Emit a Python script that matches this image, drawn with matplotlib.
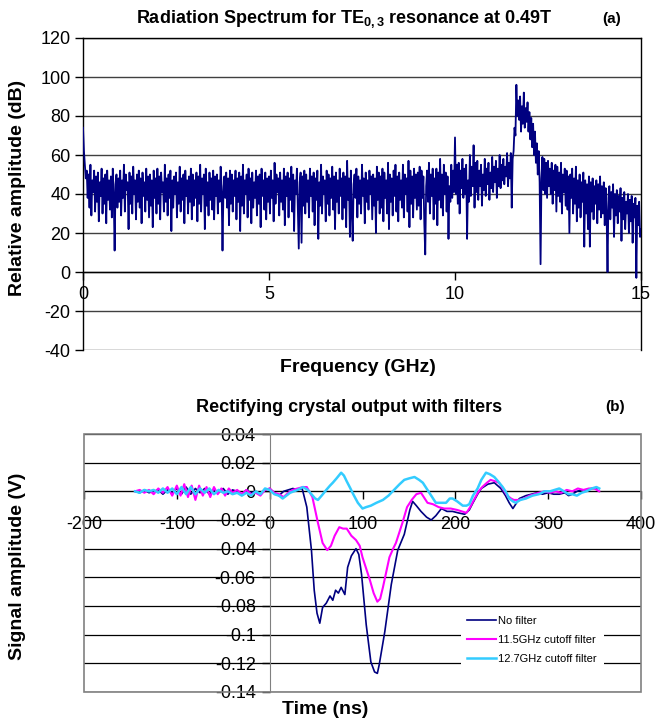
import matplotlib.pyplot as plt
from matplotlib.patches import Rectangle
import numpy as np

plt.rcParams['font.family'] = ['Liberation Sans', 'DejaVu Sans']
plt.rcParams['axes.unicode_minus'] = False
plt.rcParams['mathtext.fontset'] = 'custom'
plt.rcParams['mathtext.bf'] = 'Liberation Sans:bold'
plt.rcParams['mathtext.rm'] = 'Liberation Sans'

BOLD = ['Liberation Sans', 'DejaVu Sans']

# (a) radiation spectrum, one reading every 0.025 GHz, 0 .. 15 GHz
freq_step = 0.025
spec_db = [
    74, 62, 55, 48, 52, 38, 50, 33, 55, 29,
    47, 41, 52, 31, 49, 36, 51, 26, 46, 39,
    53, 30, 48, 35, 50, 25, 52, 37, 47, 32,
    49, 28, 53, 40, 11, 45, 50, 33, 48, 36,
    52, 29, 47, 38, 55, 31, 50, 42, 46, 22,
    51, 35, 49, 30, 54, 40, 47, 27, 50, 36,
    52, 33, 48, 25, 51, 39, 46, 31, 53, 37,
    49, 28, 50, 34, 47, 23, 52, 38, 48, 30,
    53, 35, 49, 27, 51, 41, 46, 31, 55, 36,
    48, 29, 50, 38, 52, 21, 47, 33, 49, 40,
    51, 28, 46, 35, 54, 31, 48, 37, 50, 25,
    52, 39, 47, 30, 49, 36, 53, 27, 50, 34,
    47, 38, 51, 26, 49, 35, 55, 31, 48, 40,
    50, 22, 53, 34, 46, 29, 51, 37, 48, 32,
    52, 27, 49, 39, 50, 30, 47, 36, 54, 44,
    11, 41, 49, 38, 51, 33, 48, 24, 52, 35,
    50, 31, 47, 39, 52, 27, 48, 36, 51, 21,
    49, 34, 55, 30, 47, 40, 50, 28, 53, 37,
    48, 25, 51, 33, 46, 38, 52, 29, 49, 35,
    50, 23, 53, 39, 47, 32, 51, 27, 48, 36,
    49, 30, 52, 38, 47, 26, 56, 35, 50, 41,
    48, 29, 51, 36, 47, 32, 53, 24, 49, 39,
    51, 28, 48, 37, 54, 31, 50, 21, 47, 40,
    53, 33, 12, 46, 51, 15, 49, 34, 52, 30,
    50, 36, 47, 28, 53, 39, 49, 31, 51, 24,
    48, 37, 52, 17, 46, 34, 55, 30, 49, 40,
    47, 26, 52, 35, 50, 29, 48, 38, 54, 32,
    49, 22, 51, 36, 47, 30, 53, 39, 48, 27,
    51, 33, 49, 23, 57, 37, 48, 18, 52, 31,
    16, 45, 50, 38, 53, 28, 49, 35, 47, 30,
    55, 39, 48, 25, 51, 36, 47, 32, 52, 40,
    49, 27, 50, 34, 48, 20, 54, 37, 51, 30,
    49, 33, 53, 26, 51, 38, 47, 30, 56, 22,
    50, 36, 48, 29, 52, 39, 55, 31, 49, 26,
    51, 37, 47, 33, 55, 28, 50, 40, 48, 31,
    57, 23, 52, 35, 49, 28, 53, 38, 50, 32,
    51, 34, 54, 27, 52, 38, 49, 25, 9, 44,
    52, 36, 56, 30, 50, 39, 53, 27, 48, 35,
    53, 24, 51, 37, 58, 33, 50, 29, 55, 40,
    51, 31, 49, 17, 44, 36, 55, 38, 52, 41,
    69, 40, 55, 35, 56, 30, 52, 43, 58, 38,
    53, 40, 55, 17, 47, 36, 60, 39, 54, 44,
    65, 33, 56, 41, 57, 37, 52, 44, 55, 34,
    50, 42, 58, 39, 53, 45, 56, 37, 51, 43,
    59, 41, 54, 46, 57, 38, 53, 44, 60, 43,
    55, 47, 58, 45, 54, 49, 61, 44, 56, 48,
    61, 33, 58, 62, 74, 70, 96, 80, 88, 78,
    90, 72, 85, 76, 92, 74, 84, 77, 87, 72,
    82, 68, 79, 64, 76, 60, 72, 56, 66, 50,
    62, 46, 4, 48, 59, 42, 58, 40, 56, 38,
    57, 44, 53, 40, 56, 35, 52, 42, 55, 31,
    54, 39, 51, 36, 56, 30, 50, 41, 53, 34,
    52, 32, 49, 20, 50, 38, 53, 30, 48, 35,
    54, 26, 47, 33, 50, 28, 46, 36, 51, 13,
    47, 30, 45, 22, 49, 13, 46, 31, 48, 27,
    44, 35, 47, 25, 45, 32, 49, 28, 44, 30,
    46, 24, 43, 30, 0, 38, 44, 27, 41, 33,
    45, 18, 40, 29, 42, 25, 39, 31, 43, 16,
    38, 27, 41, 22, 36, 30, 40, 20, 37, 26,
    39, 15, 35, 28, 38, -3, 34, 24, 36, 18,
    22,
]
freq = np.arange(len(spec_db)) * freq_step

# (b) rectifying crystal output
t_nofilt = [-145, -140, -135, -130, -125, -120, -115, -110, -105, -100, -95, -90,
            -85, -80, -75, -70, -65, -60, -55, -50, -45, -40, -35, -30, -25, -20,
            -15, -10, -5, 0, 5, 10, 15, 20, 25, 30, 35,
            40, 45, 48, 51, 54, 57, 61, 65, 68, 71, 74, 77, 81, 84, 88, 93, 96, 99,
            104, 109, 113, 116, 118, 124, 131, 138, 145, 151, 154, 158, 163, 169,
            174, 179, 185, 191, 197, 203, 210, 215, 219, 224, 228, 235, 242, 249,
            254, 258, 262, 266, 269, 276, 282, 288, 294, 300, 306, 312, 318, 322,
            326, 331, 336, 341, 347, 353]
v_nofilt = [0.000, -0.001, 0.001, -0.001, 0.000, 0.001, -0.002, 0.001, -0.001, 0.002,
            -0.002, 0.003, -0.002, 0.002, -0.001, 0.002, -0.002, 0.001, -0.001, 0.002,
            -0.002, 0.001, 0.000, -0.002, 0.001, -0.001, 0.000, -0.002, 0.001, 0.002,
            -0.001, -0.003, 0.000, 0.001, 0.002, 0.001, 0.002,
            -0.011, -0.041, -0.069, -0.085, -0.092, -0.081, -0.078, -0.073, -0.076,
            -0.069, -0.071, -0.067, -0.072, -0.053, -0.045, -0.040, -0.044, -0.058,
            -0.093, -0.119, -0.126, -0.127, -0.121, -0.098, -0.065, -0.041, -0.030,
            -0.013, -0.007, -0.010, -0.014, -0.018, -0.020, -0.017, -0.012, -0.014,
            -0.014, -0.015, -0.016, -0.013, -0.008, -0.002, 0.002, 0.005, 0.006, 0.002,
            -0.003, -0.008, -0.012, -0.008, -0.005, -0.003, -0.002, -0.001, -0.002,
            -0.001, -0.002, -0.002, -0.001, -0.003, -0.002, 0.000, 0.001, 0.001, 0.002,
            0.002]

t_115 = [-145, -140, -135, -130, -125, -120, -115, -110, -105, -100, -96, -92, -88,
         -84, -80, -76, -72, -68, -64, -60, -56, -52, -48, -44, -40, -35, -30, -25,
         -20, -15, -10, -5, 0, 5, 10, 15, 20, 25, 30, 36, 40, 46, 52, 57, 62, 66, 70,
         75, 79, 83, 88, 93, 97, 100, 104, 108, 112, 116, 119, 122, 126, 129, 133,
         136, 140, 143, 148, 153, 158, 163, 170, 176, 182, 188, 195, 202, 207, 212,
         216, 220, 225, 229, 234, 238, 243, 247, 252, 256, 260, 263, 268, 274, 280,
         285, 290, 296, 302, 308, 314, 320, 326, 332, 338, 344, 350, 355]
v_115 = [0.000, 0.001, -0.001, 0.001, -0.002, 0.002, -0.001, 0.003, -0.003, 0.004,
         -0.003, 0.005, -0.004, 0.004, -0.006, 0.004, -0.003, 0.003, -0.004, 0.003,
         -0.002, 0.002, -0.003, 0.002, -0.001, 0.001, -0.002, 0.001, -0.002, -0.001,
         -0.003, 0.001, 0.002, -0.001, -0.002, -0.004, -0.001, 0.001, 0.002, 0.003,
         0.003, -0.004, -0.022, -0.036, -0.041, -0.038, -0.031, -0.025, -0.026,
         -0.026, -0.031, -0.034, -0.038, -0.046, -0.054, -0.062, -0.071, -0.077,
         -0.075, -0.067, -0.055, -0.046, -0.040, -0.036, -0.028, -0.022, -0.011,
         -0.006, -0.002, -0.001, -0.008, -0.009, -0.011, -0.012, -0.012, -0.013,
         -0.014, -0.015, -0.011, -0.006, 0.000, 0.003, 0.006, 0.008, 0.007, 0.006,
         0.001, -0.003, -0.005, -0.006, -0.006, -0.005, -0.003, -0.002, -0.001,
         0.000, -0.001, 0.000, -0.001, 0.001, 0.000, 0.002, 0.001, 0.002, 0.002,
         0.000]

t_127 = [-145, -140, -135, -130, -125, -120, -115, -110, -105, -100, -95, -90, -85,
         -80, -75, -70, -65, -60, -55, -50, -45, -40, -35, -30, -25, -20, -15, -10,
         -5, 0, 5, 10, 14, 18, 22, 26, 30, 36, 41, 45, 49, 52, 56, 61, 65, 68, 72,
         77, 80, 83, 87, 90, 95, 100, 104, 109, 115, 122, 128, 134, 140, 145, 150,
         156, 161, 165, 170, 175, 179, 185, 190, 194, 197, 202, 208, 212, 215, 219,
         224, 228, 233, 237, 242, 246, 251, 255, 258, 262, 265, 270, 276, 283, 290,
         296, 302, 307, 312, 317, 322, 326, 331, 336, 341, 347, 352, 355]
v_127 = [0.000, -0.001, 0.001, 0.000, 0.001, -0.001, 0.002, -0.001, 0.002, -0.002,
         0.003, -0.002, 0.003, -0.002, 0.002, -0.001, 0.002, -0.002, 0.001, -0.001,
         0.000, -0.002, -0.001, -0.003, -0.001, -0.003, 0.000, -0.002, 0.002, 0.001,
         -0.002, -0.003, -0.005, -0.003, -0.001, 0.000, 0.001, 0.003, 0.001, -0.002,
         -0.005, -0.006, -0.003, 0.001, 0.004, 0.006, 0.009, 0.013, 0.011, 0.007,
         0.002, -0.002, -0.008, -0.012, -0.011, -0.010, -0.008, -0.006, -0.003,
         0.001, 0.005, 0.008, 0.009, 0.010, 0.008, 0.006, 0.001, -0.004, -0.008,
         -0.008, -0.008, -0.005, -0.005, -0.007, -0.010, -0.010, -0.009, -0.003,
         0.002, 0.008, 0.013, 0.012, 0.010, 0.007, 0.003, -0.001, -0.005, -0.007,
         -0.008, -0.006, -0.005, -0.003, -0.002, 0.000, 0.000, 0.001, 0.002, 0.000,
         -0.002, -0.002, -0.003, -0.001, 0.000, 0.002, 0.003, 0.002]

series_names = ['No filter', '11.5GHz cutoff filter', '12.7GHz cutoff filter']
series_colors = ['#000080', '#FF00FF', '#33CCFF']

spec_yticks = [-40, -20, 0, 20, 40, 60, 80, 100, 120]
spec_xticks = [0, 5, 10, 15]
sig_yticks = [0.04, 0.02, 0, -0.02, -0.04, -0.06, -0.08, -0.1, -0.12, -0.14]
sig_yticklabels = ['0.04', '0.02', '0', '-0.02', '-0.04', '-0.06', '-0.08',
                   '-0.1', '-0.12', '-0.14']
sig_xticks = [-200, -100, 0, 100, 200, 300, 400]

W, H = 656, 725
fig = plt.figure(figsize=(W / 100, H / 100), dpi=100)


def box(l, t, r, b):
    return [l / W, 1 - b / H, (r - l) / W, (b - t) / H]


# ---------- panel (a)
axa = fig.add_axes(box(83, 38, 641, 350))
axa.plot(freq, spec_db, color='#000080', lw=1.3, zorder=3)
axa.set_xlim(0, 15)
axa.set_ylim(-40, 120)
axa.set_yticks(spec_yticks)
axa.set_xticks(spec_xticks)
axa.grid(axis='y', color='#404040', lw=1)
axa.spines['bottom'].set_position(('data', 0))
for s in axa.spines.values():
    s.set_color('black')
    s.set_linewidth(1)
axa.tick_params(axis='both', direction='out', length=6, labelsize=13, width=1)
axa.tick_params(axis='x', pad=4)
axa.tick_params(axis='y', pad=3)
axa.set_axisbelow(True)

fig.text(344 / W, 1 - 19 / H, r'Radiation Spectrum for TE$_{\mathbf{0,3}}$ resonance at 0.49T',
         ha='center', va='center', fontsize=13, fontweight='bold', family=BOLD)
fig.text(612 / W, 1 - 19 / H, '(a)', ha='center', va='center', fontsize=11,
         fontweight='bold', family=BOLD)
fig.text(18 / W, 1 - 188 / H, 'Relative amplitude (dB)', rotation=90, ha='center',
         va='center', fontsize=14, fontweight='bold', family=BOLD)
fig.text(358 / W, 1 - 367 / H, 'Frequency (GHz)', ha='center', va='center',
         fontsize=14, fontweight='bold', family=BOLD)

# ---------- panel (b)
axb = fig.add_axes(box(84, 434, 641, 692))
for t, v, name, c, lw in zip([t_nofilt, t_115, t_127], [v_nofilt, v_115, v_127],
                             series_names, series_colors, [1.2, 1.5, 1.8]):
    axb.plot(t, v, color=c, lw=lw, label=name, zorder=3)
axb.set_xlim(-200, 400)
axb.set_ylim(-0.14, 0.04)
axb.set_yticks(sig_yticks)
axb.set_yticklabels(sig_yticklabels)
axb.set_xticks(sig_xticks)
axb.grid(axis='y', color='black', lw=0.9)
axb.spines['left'].set_position(('data', 0))
axb.spines['bottom'].set_position(('data', 0))
axb.spines['left'].set_color('#808080')
axb.spines['bottom'].set_color('black')
axb.spines['top'].set_visible(False)
axb.spines['right'].set_visible(False)
axb.add_patch(Rectangle((0, 0), 1, 1, transform=axb.transAxes, fill=False,
                        ec='#808080', lw=1.2, clip_on=False, zorder=4))
axb.tick_params(axis='both', direction='out', length=6, labelsize=13, width=1)
axb.tick_params(axis='x', pad=12)
axb.tick_params(axis='y', pad=4)
axb.set_axisbelow(True)

leg = axb.legend(loc='upper left', bbox_to_anchor=(455 / W, 1 - 604 / H),
                 bbox_transform=fig.transFigure, fontsize=8, frameon=True,
                 fancybox=False, framealpha=1, edgecolor='none', facecolor='white',
                 handlelength=2.6, handletextpad=0.2, labelspacing=0.8,
                 borderpad=0.6)

fig.text(349 / W, 1 - 407 / H, 'Rectifying crystal output with filters',
         ha='center', va='center', fontsize=13, fontweight='bold', family=BOLD)
fig.text(615 / W, 1 - 407 / H, '(b)', ha='center', va='center', fontsize=11,
         fontweight='bold', family=BOLD)
fig.text(18 / W, 1 - 566 / H, 'Signal amplitude (V)', rotation=90, ha='center',
         va='center', fontsize=14, fontweight='bold', family=BOLD)
fig.text(325 / W, 1 - 710 / H, 'Time (ns)', ha='center', va='center',
         fontsize=14, fontweight='bold', family=BOLD)

fig.savefig('out.png', dpi=100)
